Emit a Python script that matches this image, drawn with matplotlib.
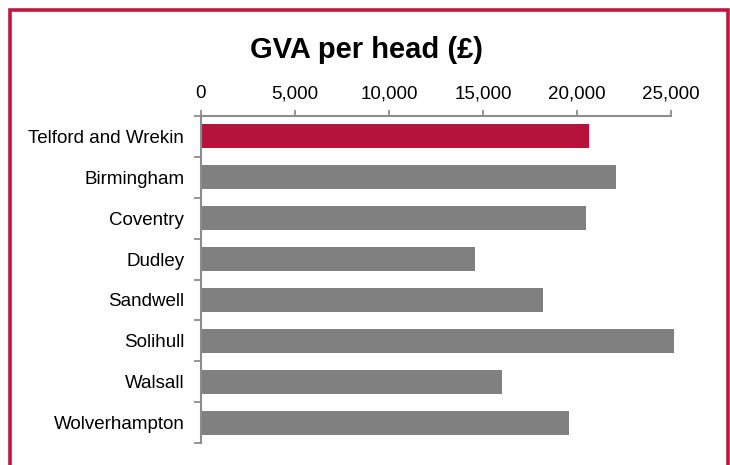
# GVA per head chart, horizontal bars
import numpy as np
import matplotlib.pyplot as plt
from matplotlib.patches import Rectangle
from matplotlib.ticker import FuncFormatter

plt.rcParams['font.family'] = ['Liberation Sans', 'DejaVu Sans']

areas = ['Telford and Wrekin', 'Birmingham', 'Coventry', 'Dudley',
         'Sandwell', 'Solihull', 'Walsall', 'Wolverhampton']
gva = [20650, 22050, 20500, 14550, 18200, 25150, 16000, 19550]
xticks = [0, 5000, 10000, 15000, 20000, 25000]

RED = '#B5133A'
GREY = '#808080'
AXIS = '#8C8C8C'

fig = plt.figure(figsize=(7.3, 4.65), dpi=100)
ax = fig.add_axes([201 / 730, 1 - 443 / 465, 470 / 730, 327 / 465])

pos = np.arange(len(areas))
colours = [RED] + [GREY] * (len(areas) - 1)
bars = ax.barh(pos, gva, height=0.59, color=colours)
for b in bars:
    b.set_clip_on(False)   # Solihull runs a little past the last tick

ax.set_xlim(0, 25000)
ax.set_ylim(len(areas) - 0.5, -0.5)

# x axis on top
ax.xaxis.tick_top()
ax.set_xticks(xticks)
ax.xaxis.set_major_formatter(FuncFormatter(lambda v, p: '{:,.0f}'.format(v)))
ax.tick_params(axis='x', direction='out', length=4, width=1.3, color=AXIS,
               labelsize=13.5, pad=6)

# y ticks on the category boundaries, labels at the centres
ax.set_yticks(np.arange(-0.5, len(areas), 1.0))
ax.set_yticklabels([])
ax.set_yticks(pos, minor=True)
ax.set_yticklabels(areas, minor=True)
ax.tick_params(axis='y', which='major', direction='out', length=5, width=1.3, color=AXIS)
ax.tick_params(axis='y', which='minor', length=0, labelsize=13.5, pad=12)

for s in ['right', 'bottom']:
    ax.spines[s].set_visible(False)
for s in ['top', 'left']:
    ax.spines[s].set_color(AXIS)
    ax.spines[s].set_linewidth(1.5)

fig.text(367 / 730, 1 - 50 / 465, 'GVA per head (£)', ha='center', va='center',
         fontsize=21, fontweight='bold')

# chart border
border = Rectangle((10 / 730, -0.05), 718 / 730, 1.05 - 10.5 / 465,
                   transform=fig.transFigure, fill=False,
                   edgecolor='#C0163E', linewidth=2.6, clip_on=False)
fig.patches.append(border)

fig.savefig('out.png', dpi=100)
